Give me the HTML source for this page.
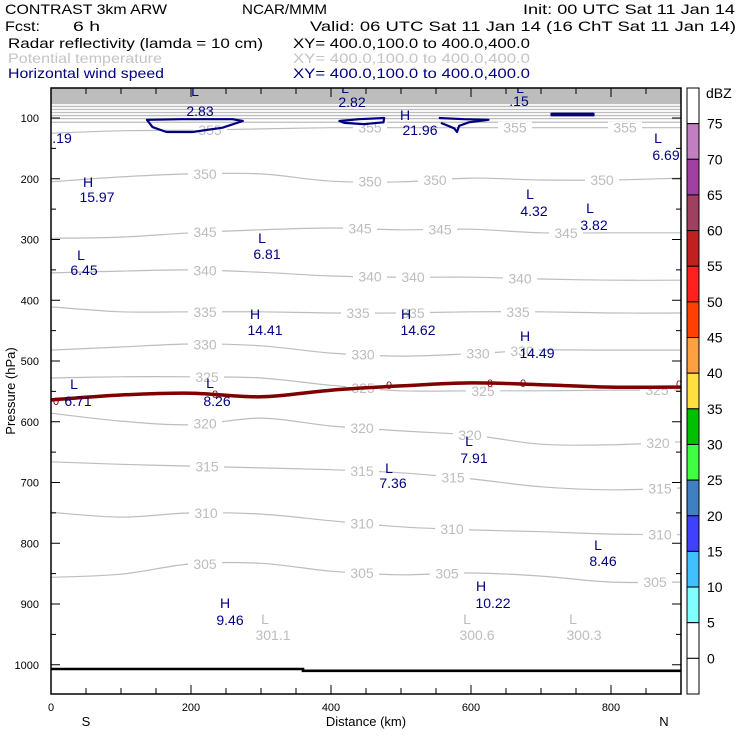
<!DOCTYPE html>
<html><head><meta charset="utf-8"><style>
html,body{margin:0;padding:0;background:#fff}
svg{display:block;font-family:"Liberation Sans",sans-serif}
</style></head><body>
<svg id="chart" width="740" height="740" viewBox="0 0 740 740" xmlns="http://www.w3.org/2000/svg">
<g font-size="14">
<text x="5" y="14" textLength="162" lengthAdjust="spacingAndGlyphs">CONTRAST  3km ARW</text>
<text x="242" y="14" textLength="85" lengthAdjust="spacingAndGlyphs">NCAR/MMM</text>
<text x="523" y="14" textLength="212" lengthAdjust="spacingAndGlyphs">Init: 00 UTC Sat 11 Jan 14</text>
<text x="5" y="31" textLength="35" lengthAdjust="spacingAndGlyphs">Fcst:</text>
<text x="73" y="31" textLength="27" lengthAdjust="spacingAndGlyphs">6 h</text>
<text x="310" y="31" textLength="426" lengthAdjust="spacingAndGlyphs">Valid: 06 UTC Sat 11 Jan 14 (16 ChT Sat 11 Jan 14)</text>
<text x="8" y="48" textLength="255" lengthAdjust="spacingAndGlyphs">Radar reflectivity (lamda = 10 cm)</text>
<text x="293" y="48" textLength="237" lengthAdjust="spacingAndGlyphs">XY= 400.0,100.0 to 400.0,400.0</text>
<text x="8" y="63" fill="#c4c4c4" textLength="154" lengthAdjust="spacingAndGlyphs">Potential temperature</text>
<text x="293" y="63" fill="#c4c4c4" textLength="237" lengthAdjust="spacingAndGlyphs">XY= 400.0,100.0 to 400.0,400.0</text>
<text x="8" y="78" fill="#000080" textLength="156" lengthAdjust="spacingAndGlyphs">Horizontal wind speed</text>
<text x="293" y="78" fill="#000080" textLength="237" lengthAdjust="spacingAndGlyphs">XY= 400.0,100.0 to 400.0,400.0</text>
</g>
<g id="plot"></g>
</svg>
<script>
// ---- data ----
const distKm = [0,100,200,300,400,500,600,700,800,900];
const thetaLevels = [305,310,315,320,325,330,335,340,345,350,355];
const theta305 = [856,851,834,833,846,852,849,854,864,864];
const theta310 = [749,757,750,752,763,773,778,781,785,786];
const theta315 = [666,670,673,676,679,684,694,707,712,709];
const theta320 = [586,599,605,594,607,615,622,637,638,633];
const theta325 = [528,526,526,528,540,549,549,549,548,548];
const theta330 = [482,477,472,475,487,492,488,482,482,482];
const theta335 = [411,419,419,419,421,421,419,419,421,421];
const theta340 = [355,352,350,354,360,362,362,365,367,367];
const theta345 = [298,296,289,284,281,284,283,289,289,289];
const theta350 = [205,197,192,192,204,205,199,202,202,199];
const theta355 = [125,121,120,118,116,116,116,116,116,116];
const upperLevels = [360,365,370,375,380,385,390];
const upperP = [107,101,96,91,86,81,76];
const freezingP = [564,556,553,559,548,541,536,539,543,543];
const groundKm = [0,360,360,900];
const groundP = [1007,1007,1010,1010];
const wind1Km = [137,145,165,202,245,274,259,215,187,141];
const wind1P = [103,115,123,123,116,105,102,102,102,103];
const wind2Km = [412,440,476,475,447,419];
const wind2P = [105,102,100,107,110,108];
const wind3Km = [554,590,625,597,583,580,576,557];
const wind3P = [100,102,103,107,113,123,117,108];
const wind4Km = [715,775,775,715];
const wind4P = [93,93,95.5,95.5];
const xTicks = [0,200,400,600,800];
const yTicks = [100,200,300,400,500,600,700,800,900,1000];
const cbLevels = ['75','70','65','60','55','50','45','40','35','30','25','20','15','10','5','0'];
const cbColors = ['#ffffff','#c080c0','#a040a0','#a04060','#c02020','#ff2020','#ff4000','#ffa040','#ffe040','#00c000','#40ff40','#4080c0','#4040ff','#40c0ff','#80ffff','#ffffff','#ffffff'];

// ---- axes ----
const X0=51,X1=681,Y0=88,Y1=694;
const xs = km => X0 + km*(X1-X0)/900;
const ys = p => 118 + (p-100)*0.6075;
const NS='http://www.w3.org/2000/svg';
const plot=document.getElementById('plot');
function mk(tag, attrs, parent){const e=document.createElementNS(NS,tag);for(const k in attrs)e.setAttribute(k,attrs[k]);(parent||plot).appendChild(e);return e;}
function smooth(pts){let d='M'+pts[0][0].toFixed(1)+','+pts[0][1].toFixed(1);for(let i=0;i<pts.length-1;i++){const p0=pts[Math.max(0,i-1)],p1=pts[i],p2=pts[i+1],p3=pts[Math.min(pts.length-1,i+2)];const c1=[p1[0]+(p2[0]-p0[0])/6,p1[1]+(p2[1]-p0[1])/6],c2=[p2[0]-(p3[0]-p1[0])/6,p2[1]-(p3[1]-p1[1])/6];d+=' C'+c1[0].toFixed(1)+','+c1[1].toFixed(1)+' '+c2[0].toFixed(1)+','+c2[1].toFixed(1)+' '+p2[0].toFixed(1)+','+p2[1].toFixed(1);}return d;}
function interp(arr, km){const i=Math.min(8,Math.floor(km/100));const t=(km-distKm[i])/100;return arr[i]+(arr[i+1]-arr[i])*t;}

const defs=mk('defs',{});const cp=mk('clipPath',{id:'clip'},defs);mk('rect',{x:X0,y:Y0,width:X1-X0,height:Y1-Y0},cp);
const g=mk('g',{'clip-path':'url(#clip)'});

const band=mk('rect',{x:X0,y:Y0,width:X1-X0,height:ys(upperP[upperP.length-1])-Y0,fill:'#bdbdbd'},g);


upperLevels.forEach((lv,i)=>{
  const l=mk('line',{x1:X0,x2:X1,y1:ys(upperP[i]),y2:ys(upperP[i]),stroke:'#bdbdbd','stroke-width':1.3},g);
  
  
});

const thetaData=[theta305,theta310,theta315,theta320,theta325,theta330,theta335,theta340,theta345,theta350,theta355];
thetaData.forEach((arr,i)=>{
  const pts=distKm.map((k,j)=>[xs(k),ys(arr[j])]);
  const p=mk('path',{d:smooth(pts),fill:'none',stroke:'#bdbdbd','stroke-width':1.2},g);
  
  
});

// theta labels (drawn before other fields so they only break theta lines)
const labelX=[[205,362,447,655],[206,362,452,660],[207,362,453,660],[205,362,470,658],[207,363,483,657],[205,363,478,522],[205,358,413,518],[205,370,413,520],[205,360,440,566],[205,370,435,602],[210,370,515,625]];
thetaData.forEach((arr,i)=>{
  labelX[i].forEach(k=>{
    const km=(k-X0)*900/(X1-X0); const y=ys(interp(arr,Math.max(0,Math.min(900,km))));
    const r=mk('rect',{x:k-17,y:y-6,width:34,height:12,fill:'#fff'},g);
    
    
    const t=mk('text',{x:k,y:y+5,'text-anchor':'middle','font-size':14,fill:'#bdbdbd'},g);
    t.textContent=thetaLevels[i];
    
    
  });
});

const fz=mk('path',{d:smooth(distKm.map((k,j)=>[xs(k),ys(freezingP[j])])),fill:'none',stroke:'#800000','stroke-width':3.5},g);



const gd=mk('path',{d:groundKm.map((k,j)=>(j?'L':'M')+xs(k)+','+ys(groundP[j])).join(' '),fill:'none',stroke:'#000','stroke-width':2.6},g);



[[wind1Km,wind1P],[wind2Km,wind2P],[wind3Km,wind3P],[wind4Km,wind4P]].forEach((w,i)=>{
  const d=w[0].map((k,j)=>(j?'L':'M')+xs(k).toFixed(1)+','+ys(w[1][j]).toFixed(1)).join(' ')+(i===2?'':' Z');
  const p=mk('path',{d:d,fill:'none',stroke:'#000080','stroke-width':2.2,'stroke-linejoin':'round'},g);
  
  
});

const hl=[['L',195,96],['2.83',200,116],['L',345,93],['2.82',352,107],['H',405,120],['21.96',420,135],['L',520,93],['.15',519,106],['.19',62,143],['L',658,143],['6.69',666,160],
['H',88,187],['15.97',97,202],['L',262,243],['6.81',267,259],['L',530,199],['4.32',534,216],['L',590,213],['3.82',594,230],['L',81,260],['6.45',84,275],
['H',255,319],['14.41',265,335],['H',406,319],['14.62',418,335],['H',525,341],['14.49',537,358],['L',74,389],['6.71',78,406],['L',210,388],['8.26',217,406],
['L',469,446],['7.91',474,463],['L',389,473],['7.36',393,488],['L',598,550],['8.46',603,566],['H',481,591],['10.22',493,608],['H',225,608],['9.46',230,625]];
hl.forEach(h=>{
  const t=mk('text',{x:h[1],y:h[2],'text-anchor':'middle','font-size':14,fill:'#000080'},g);
  t.textContent=h[0];
  
  
});
const gl=[['L',265,624],['301.1',273,640],['L',467,624],['300.6',477,640],['L',573,624],['300.3',584,640]];
gl.forEach(h=>{
  const t=mk('text',{x:h[1],y:h[2],'text-anchor':'middle','font-size':14,fill:'#bdbdbd'},g);
  t.textContent=h[0];
  
  
});
[[56,405],[215,398],[389,389],[490,387],[523,387],[679,388]].forEach(z=>{
  const t=mk('text',{x:z[0],y:z[1],'text-anchor':'middle','font-size':11,fill:'#800000'},g);
  t.textContent='0';
  
  
});

const fr=mk('rect',{x:X0,y:Y0,width:X1-X0,height:Y1-Y0,fill:'none',stroke:'#000','stroke-width':1.5});


for(let km=0;km<=900;km+=50){
  const major=km%200===0;
  mk('line',{x1:xs(km),x2:xs(km),y1:Y1,y2:Y1-(major?9:6),stroke:'#000'});
  mk('line',{x1:xs(km),x2:xs(km),y1:Y0,y2:Y0+(major?9:6),stroke:'#000'});
}
for(let p=100;p<=1000;p+=50){
  const major=p%100===0;
  mk('line',{x1:X0,x2:X0+(major?9:5),y1:ys(p),y2:ys(p),stroke:'#000'});
  mk('line',{x1:X1,x2:X1-(major?9:5),y1:ys(p),y2:ys(p),stroke:'#000'});
}
xTicks.forEach(k=>{
  const t=mk('text',{x:xs(k),y:711,'text-anchor':'middle','font-size':11});
  t.textContent=k;
  
  
});
yTicks.forEach(p=>{
  const t=mk('text',{x:39,y:ys(p)+4,'text-anchor':'end','font-size':11});
  t.textContent=p;
  
  
});
[['S',86],['N',664]].forEach(s=>{
  const t=mk('text',{x:s[1],y:726,'text-anchor':'middle','font-size':13});
  t.textContent=s[0];
  
  
});
const xt=mk('text',{x:366,y:726,'text-anchor':'middle','font-size':13});
xt.textContent='Distance (km)';


const yt=mk('text',{x:0,y:0,'text-anchor':'middle','font-size':13,transform:'translate(15,391) rotate(-90)'});
yt.textContent='Pressure (hPa)';



const bh=(Y1-Y0)/cbColors.length;
cbColors.forEach((c,i)=>{
  const r=mk('rect',{x:687,y:Y0+i*bh,width:12,height:bh,fill:c,stroke:'#000','stroke-width':1});
  
  
});
cbLevels.forEach((l,i)=>{
  const t=mk('text',{x:707,y:Y0+(i+1)*bh+5,'font-size':14});
  t.textContent=l;
  
  
});
const du=mk('text',{x:706,y:98,'font-size':14});
du.textContent='dBZ';


</script>
</body></html>
